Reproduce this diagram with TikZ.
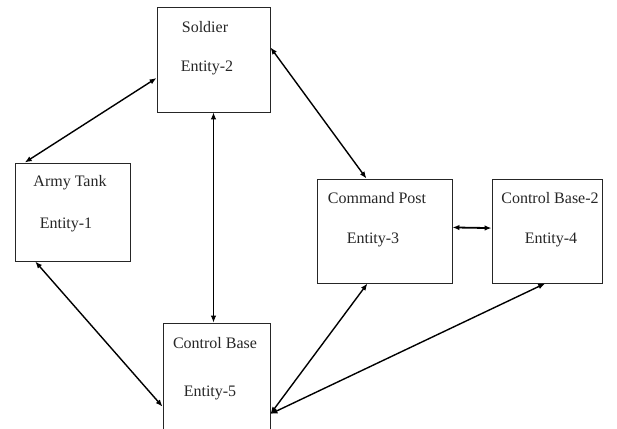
\documentclass[tikz,border=0pt]{standalone}
\usepackage{fontspec}
\setmainfont{Liberation Serif}
\usetikzlibrary{arrows.meta,positioning,calc}

\begin{document}
\begin{tikzpicture}[x=1pt, y=1pt,
    entity/.style={draw=black!85, line width=0.9pt, inner sep=0pt},
    link/.style={{Latex[length=7pt,width=5.5pt]}-{Latex[length=7pt,width=5.5pt]}, line width=1.4pt},
    every node/.append style={font=\fontsize{16}{19}\selectfont}]
    \useasboundingbox (0,0) rectangle (617,428);

    % Boxes
    \node [entity, minimum width=113, minimum height=105] (soldier) at (213.5,368.5) {};
    \node [entity, minimum width=115, minimum height=98]  (tank)    at (72.5,216) {};
    \node [entity, minimum width=107, minimum height=117] (cbase)   at (216.5,46.5) {};
    \node [entity, minimum width=135, minimum height=104] (cpost)   at (384.5,197) {};
    \node [entity, minimum width=110, minimum height=104] (cbase2)  at (547,197) {};

    % Labels
    \foreach \nm/\x/\y/\lab in {soldiername/205/401/Soldier, soldierid/207/360/Entity-2,
        tankname/70/245/Army Tank, tankid/66/203/Entity-1,
        cbasename/215/85/Control Base, cbaseid/210/35/Entity-5,
        cpostname/377/230/Command Post, cpostid/373/188/Entity-3,
        cbasetwoname/550/230/Control Base-2, cbasetwoid/551/188/Entity-4} {
        \node [text=black!85] (\nm) at (\x,\y) {\lab};
    }

    % Links
    \draw [link] (soldier.198) -- (tank.134);
    \draw [link] (soldier.12) -- (cpost.109);
    \draw [link, line width=1pt] (soldier.south) -- (soldier.south |- cbase.north);
    \draw [link] (tank.233) -- (cbase.205);
    \draw [link] (cbase.329) -- (cpost.252);
    \draw [link] (cbase.329) -- (cbase2.268);
    \draw [link, line width=1.8pt] (cpost.3) -- (cbase2.177);
\end{tikzpicture}
\end{document}
